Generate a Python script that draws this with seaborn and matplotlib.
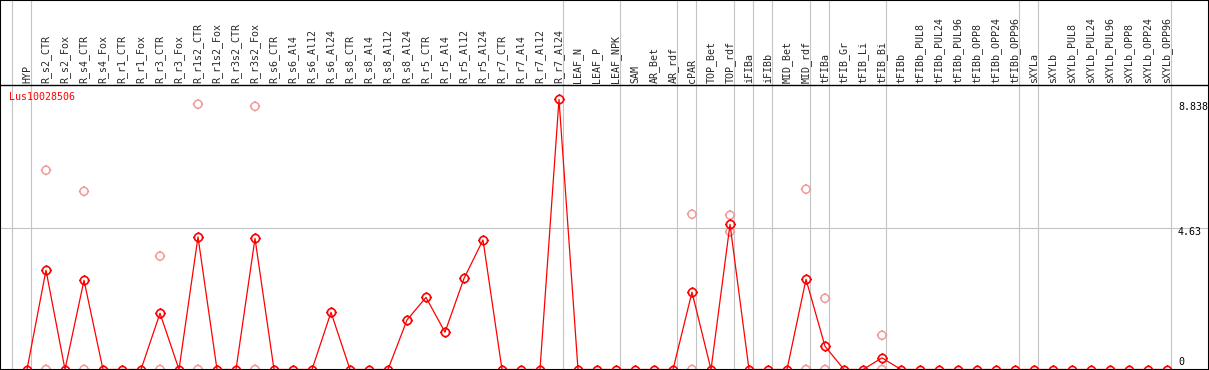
#!/usr/bin/env python
# Expression profile of Lus10028506 across tissues / treatments

import numpy as np
import pandas as pd
import matplotlib
matplotlib.use('Agg')
import matplotlib.pyplot as plt
import seaborn as sns
from matplotlib.path import Path
from matplotlib.patches import Rectangle

sns.set_style('white')
plt.rcParams['font.family'] = ['DejaVu Sans Mono', 'DejaVu Sans']

# Sample names (columns of the profile)
samples = [
    'HYP',
    'R_s2_CTR', 'R_s2_Fox', 'R_s4_CTR', 'R_s4_Fox',
    'R_r1_CTR', 'R_r1_Fox', 'R_r3_CTR', 'R_r3_Fox',
    'R_r1s2_CTR', 'R_r1s2_Fox', 'R_r3s2_CTR', 'R_r3s2_Fox',
    'R_s6_CTR', 'R_s6_Al4', 'R_s6_Al12', 'R_s6_Al24',
    'R_s8_CTR', 'R_s8_Al4', 'R_s8_Al12', 'R_s8_Al24',
    'R_r5_CTR', 'R_r5_Al4', 'R_r5_Al12', 'R_r5_Al24',
    'R_r7_CTR', 'R_r7_Al4', 'R_r7_Al12', 'R_r7_Al24',
    'LEAF_N', 'LEAF_P', 'LEAF_NPK',
    'SAM', 'AR_Bet', 'AR_rdf',
    'cPAR', 'TOP_Bet', 'TOP_rdf',
    'iFIBa', 'iFIBb', 'MID_Bet', 'MID_rdf',
    'tFIBa', 'tFIB_Gr', 'tFIB_Li', 'tFIB_Bi',
    'tFIBb', 'tFIBb_PUL8', 'tFIBb_PUL24', 'tFIBb_PUL96',
    'tFIBb_OPP8', 'tFIBb_OPP24', 'tFIBb_OPP96',
    'sXYLa', 'sXYLb', 'sXYLb_PUL8', 'sXYLb_PUL24', 'sXYLb_PUL96',
    'sXYLb_OPP8', 'sXYLb_OPP24', 'sXYLb_OPP96',
]

# Mean expression per sample
expr_mean = [
    0,
    3.25, 0, 2.92, 0,
    0, 0, 1.84, 0,
    4.34, 0, 0, 4.29,
    0, 0, 0, 1.87,
    0, 0, 0, 1.62,
    2.36, 1.22, 2.98, 4.24,
    0, 0, 0, 8.838,
    0, 0, 0,
    0, 0, 0,
    2.53, 0, 4.75,
    0, 0, 0, 2.95,
    0.76, 0, 0, 0.38,
    0, 0, 0, 0,
    0, 0, 0,
    0, 0, 0, 0, 0,
    0, 0, 0,
]

# Individual replicates (visible ones)
rep_sample = ['R_s2_CTR', 'R_s2_CTR', 'R_s4_CTR', 'R_s4_CTR', 'R_r3_CTR', 'R_r3_CTR',
              'R_r1s2_CTR', 'R_r1s2_CTR', 'R_r3s2_Fox', 'R_r3s2_Fox',
              'cPAR', 'cPAR', 'TOP_rdf', 'TOP_rdf', 'MID_rdf', 'MID_rdf',
              'tFIBa', 'tFIBa', 'tFIB_Bi', 'tFIB_Bi']
rep_value = [6.52, 0, 5.83, 0, 3.71, 0,
             8.68, 0, 8.61, 0,
             5.08, 0, 5.05, 4.51, 5.90, 0,
             2.33, 0, 1.12, 0]

# Sample group sizes (grey separators after each group)
group_sizes = [1, 28, 3, 3, 1, 2, 1, 1, 2, 1, 3, 7, 1, 7]

gene = 'Lus10028506'
y_marks = [8.838, 4.63, 0]

RED = '#ff0000'
PALE = '#f29a9a'
GRID = '#c4c4c4'

# circle marker with four small ticks
theta = np.linspace(0, 2 * np.pi, 33)
circle = Path(np.column_stack([np.cos(theta), np.sin(theta)]))
ticks = []
for dx, dy in [(1, 0), (-1, 0), (0, 1), (0, -1)]:
    ticks.append(Path([(dx, dy), (dx * 1.3, dy * 1.3)], [Path.MOVETO, Path.LINETO]))
tick_marker = Path.make_compound_path(circle, *ticks)

pos = {s: i for i, s in enumerate(samples)}
df = pd.DataFrame({'idx': np.arange(len(samples)), 'value': expr_mean})
rep = pd.DataFrame({'idx': [pos[s] for s in rep_sample], 'value': rep_value})

W, H = 1209, 370
fig = plt.figure(figsize=(W / 100, H / 100), dpi=100)
top_px, bot_px = 85, 369.5
ax = fig.add_axes([0, (H - bot_px) / H, 1, (bot_px - top_px) / H])

px_per_col = 19
x0 = 27
ax.set_xlim(-x0 / px_per_col, (W - x0) / px_per_col)
ax.set_ylim(0, 8.838 * (bot_px - top_px) / (bot_px - 99.4))

# separators
ends = np.concatenate([[-1], np.cumsum(group_sizes) - 1])
for e in ends:
    ax.axvline(e + 0.2, ymin=0, ymax=bot_px / (bot_px - top_px) + 0.01,
               color=GRID, lw=0.8, clip_on=False, zorder=0)
ax.axhline(y_marks[1], color=GRID, lw=0.8, zorder=0)

sns.scatterplot(data=rep, x='idx', y='value', ax=ax, marker=tick_marker, s=56,
                facecolor='none', edgecolor=PALE, linewidth=1.1, zorder=2, legend=False)
sns.lineplot(data=df, x='idx', y='value', ax=ax, color=RED, lw=0.9, errorbar=None,
             marker=tick_marker, markersize=7.6, markerfacecolor='none',
             markeredgecolor=RED, markeredgewidth=1.2, zorder=3)

ax.set_xticks(np.arange(len(samples)))
ax.set_xticklabels(samples, rotation=90, fontsize=7.2)
ax.xaxis.tick_top()
ax.tick_params(axis='x', length=0, pad=1.5)
ax.set_yticks([])
ax.set_xlabel('')
ax.set_ylabel('')

for s in ['left', 'right']:
    ax.spines[s].set_visible(False)
for s in ['top', 'bottom']:
    ax.spines[s].set_color('black')
    ax.spines[s].set_linewidth(1.0)

# value marks on the right
offsets = [-5.5, -3.0, 5.4]
for v, off in zip(y_marks, offsets):
    lab = f'{v:g}'
    ax.annotate(lab, xy=(1178 / W, v), xycoords=ax.get_yaxis_transform(),
                xytext=(0, off), textcoords='offset points',
                ha='left', va='center', fontsize=7.2, color='black')

ax.text(9.5 / W, (bot_px - 97) / (bot_px - top_px), gene, transform=ax.transAxes,
        ha='left', va='center', fontsize=7.2, color=RED)

fig.add_artist(Rectangle((0, 0), 1, 1, transform=fig.transFigure, fill=False,
                         edgecolor='black', lw=1.5))

plt.savefig('out.png', dpi=100)
